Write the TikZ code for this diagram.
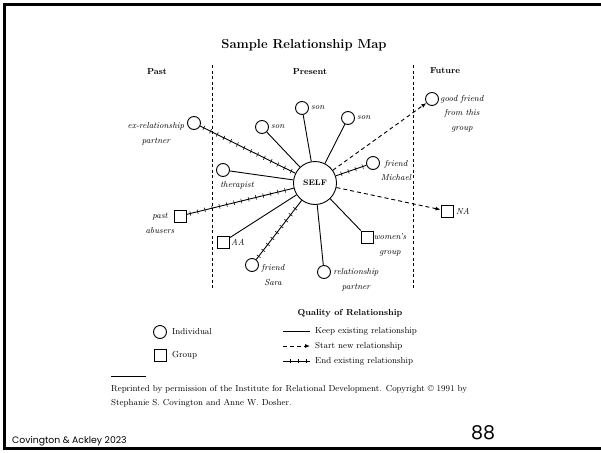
\documentclass[tikz,border=0pt]{standalone}
\usepackage{fontspec}
\newfontfamily\footfont{Poppins}
\usetikzlibrary{arrows.meta,decorations.markings}
\begin{document}
\begin{tikzpicture}[x=1pt,y=-1pt,
  ind/.style={circle,draw,minimum size=13pt,inner sep=0pt,line width=0.9pt},
  grp/.style={rectangle,draw,minimum size=12pt,inner sep=0pt,line width=0.9pt},
  lab/.style={font=\fontsize{8.7}{14.5}\selectfont\itshape,inner sep=0pt,align=center},
  hdr/.style={font=\fontsize{8.7}{10}\selectfont\bfseries,inner sep=0pt},
  txt/.style={font=\fontsize{8.7}{14}\selectfont,inner sep=0pt,align=left},
  keeprel/.style={line width=0.9pt},
  newrel/.style={line width=0.9pt,dash pattern=on 4pt off 3pt,-{Latex[length=5pt,width=4pt]}},
  endrel/.style={line width=0.9pt,postaction={decorate},
    decoration={markings,mark=between positions 4pt and -3pt step 7.5pt with {\draw[line width=0.55pt] (0,-2.3pt)--(0,2.3pt);}}},
  divider/.style={line width=0.6pt,dash pattern=on 3pt off 2.5pt}]
\useasboundingbox (0,0) rectangle (601,452);
% slide border
\draw[line width=2.5pt] (601,4.5) -- (4.5,4.5) -- (4.5,448.5) -- (601,448.5);
% title and headers
\node[font=\fontsize{13}{15}\selectfont\bfseries] (title) at (304,45) {Sample Relationship Map};
\node[hdr] (hpast) at (157,72) {Past};
\node[hdr] (hpresent) at (310,72) {Present};
\node[hdr] (hfuture) at (445,71) {Future};
\coordinate (d1a) at (212,65); \coordinate (d1b) at (212,288);
\coordinate (d2a) at (413,65); \coordinate (d2b) at (413,288);
\draw[divider] (d1a) -- (d1b);
\draw[divider] (d2a) -- (d2b);
% nodes
\node[ind,minimum size=43pt,font=\fontsize{8}{9}\selectfont\bfseries] (self) at (315,183) {SELF};
\node[ind] (exrel) at (194,123) {};
\node[ind] (sonl) at (262,127) {};
\node[ind] (sont) at (302,108) {};
\node[ind] (sonr) at (348,118) {};
\node[ind] (good) at (432,99) {};
\node[ind] (mich) at (373,163) {};
\node[ind] (ther) at (223,170) {};
\node[grp] (na) at (447,211) {};
\node[grp] (past) at (180,216) {};
\node[grp] (aa) at (223,242) {};
\node[grp] (women) at (367,237) {};
\node[ind] (sara) at (252,265) {};
\node[ind] (partner) at (324,272) {};
% labels
\node[lab] (lexrel) at (156,134) {ex-relationship\\partner};
\node[lab,anchor=west] (lsonl) at (271,127) {son};
\node[lab,anchor=west] (lsont) at (311,108) {son};
\node[lab,anchor=west] (lsonr) at (357,118) {son};
\node[lab] (lgood) at (462,113.5) {good friend\\from this\\group};
\node[lab] (lmich) at (396,170.5) {friend\\Michael};
\node[lab] (lther) at (237,185) {therapist};
\node[lab,anchor=west] (lna) at (456,211) {NA};
\node[lab] (lpast) at (160,223.5) {past\\abusers};
\node[lab,anchor=west] (laa) at (231,242) {AA};
\node[lab] (lwomen) at (390,245) {women's\\group};
\node[lab] (lsara) at (273,275) {friend\\Sara};
\node[lab] (lpartner) at (356,280) {relationship\\partner};
% connectors
\draw[endrel] (exrel) -- (self);
\draw[keeprel] (sonl) -- (self);
\draw[keeprel] (sont) -- (self);
\draw[keeprel] (sonr) -- (self);
\draw[newrel] (self) -- (good);
\draw[endrel] (mich) -- (self);
\draw[keeprel] (ther) -- (self);
\draw[newrel] (self) -- (na);
\draw[endrel] (past) -- (self);
\draw[keeprel] (aa) -- (self);
\draw[endrel] (sara) -- (self);
\draw[keeprel] (partner) -- (self);
\draw[keeprel] (women) -- (self);
% legend
\node[hdr] (qual) at (350,313) {Quality of Relationship};
\node[ind] (lgind) at (160,332) {};
\node[txt,anchor=west] (lgindt) at (172,332) {Individual};
\node[grp] (lggrp) at (160,355) {};
\node[txt,anchor=west] (lggrpt) at (172,355) {Group};
\coordinate (k1) at (283,331); \coordinate (k2) at (310,331);
\coordinate (s1) at (283,346); \coordinate (s2) at (310,346);
\coordinate (e1) at (283,361); \coordinate (e2) at (310,361);
\draw[keeprel] (k1) -- (k2);
\draw[newrel] (s1) -- (s2);
\draw[line width=0.6pt] (e1) -- (e2);
\foreach \xx in {290,298,306} \draw[line width=0.5pt] (\xx,358.8) -- (\xx,363.2);
\node[txt,anchor=west] (kt) at (315,331) {Keep existing relationship};
\node[txt,anchor=west] (st) at (315,346) {Start new relationship};
\node[txt,anchor=west] (et) at (315,361) {End existing relationship};
% footnote
\coordinate (r1) at (111,376); \coordinate (r2) at (146,376);
\draw[line width=0.8pt] (r1) -- (r2);
\node[txt,anchor=west] (note) at (111,396) {Reprinted by permission of the Institute for Relational Development. Copyright \textcopyright{} 1991 by\\Stephanie S. Covington and Anne W. Dosher.};
% footer
\node[font=\footfont\fontsize{9.3}{11}\selectfont,anchor=west,inner sep=0pt] (foot) at (12,441) {Covington \& Ackley 2023};
\node[font=\footfont\fontsize{19}{21}\selectfont,inner sep=0pt] (page) at (483,433) {88};
\end{tikzpicture}
\end{document}
